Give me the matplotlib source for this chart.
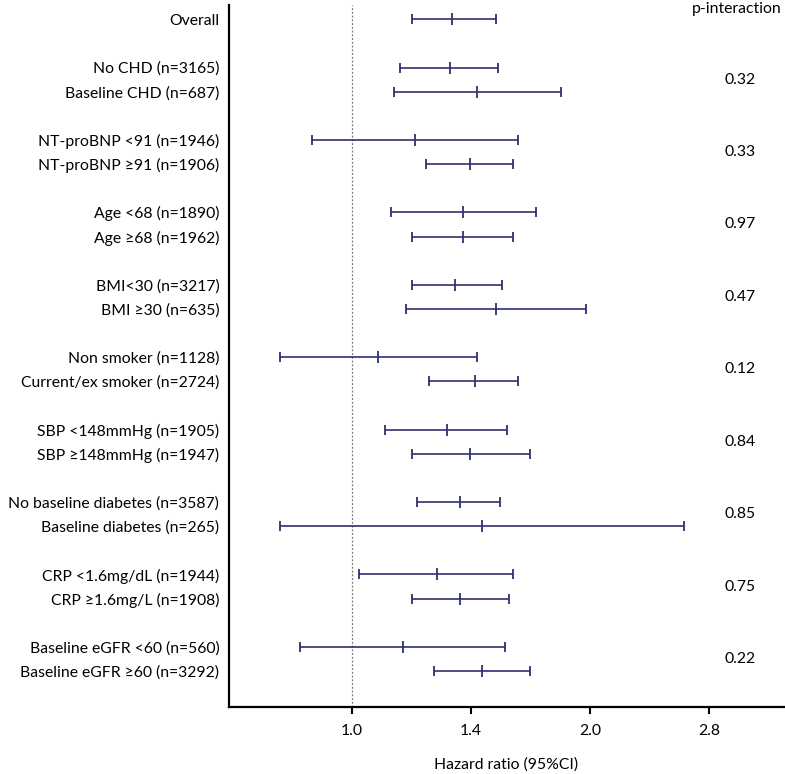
import matplotlib
matplotlib.use("Agg")
import matplotlib.pyplot as plt
import numpy as np

labels = ["Overall",
          "No CHD (n=3165)", "Baseline CHD (n=687)",
          "NT-proBNP <91 (n=1946)", "NT-proBNP ≥91 (n=1906)",
          "Age <68 (n=1890)", "Age ≥68 (n=1962)",
          "BMI<30 (n=3217)", "BMI ≥30 (n=635)",
          "Non smoker (n=1128)", "Current/ex smoker (n=2724)",
          "SBP <148mmHg (n=1905)", "SBP ≥148mmHg (n=1947)",
          "No baseline diabetes (n=3587)", "Baseline diabetes (n=265)",
          "CRP <1.6mg/dL (n=1944)", "CRP ≥1.6mg/L (n=1908)",
          "Baseline eGFR <60 (n=560)", "Baseline eGFR ≥60 (n=3292)"]
rows = [0, 2, 3, 5, 6, 8, 9, 11, 12, 14, 15, 17, 18, 20, 21, 23, 24, 26, 27]
hr = [1.34, 1.33, 1.44, 1.20, 1.41, 1.38, 1.38, 1.35, 1.52, 1.08, 1.43,
      1.32, 1.41, 1.37, 1.46, 1.28, 1.37, 1.16, 1.46]
lo = [1.19, 1.15, 1.13, 0.89, 1.24, 1.12, 1.19, 1.19, 1.17, 0.81, 1.25,
      1.10, 1.19, 1.21, 0.81, 1.02, 1.19, 0.86, 1.27]
hi = [1.52, 1.53, 1.84, 1.62, 1.60, 1.71, 1.60, 1.55, 1.98, 1.44, 1.62,
      1.57, 1.68, 1.54, 2.63, 1.60, 1.58, 1.56, 1.68]
p_rows = [2.5, 5.5, 8.5, 11.5, 14.5, 17.5, 20.5, 23.5, 26.5]
p_vals = ["0.32", "0.33", "0.97", "0.47", "0.12", "0.84", "0.85", "0.75", "0.22"]
xticks = [1.0, 2 ** 0.5, 2.0, 2 ** 1.5]
xtick_labels = ["1.0", "1.4", "2.0", "2.8"]

plt.rcParams['font.family'] = ['Lato', 'DejaVu Sans']
fs = 11.3
fig = plt.figure(figsize=(7.85, 7.74), dpi=100)
ax = fig.add_axes([229 / 785, 1 - 707 / 774, (784 - 229) / 785, (707 - 5) / 774])

col = '#2e3070'
hr_a = np.array(hr); lo_a = np.array(lo); hi_a = np.array(hi)
ax.errorbar(hr_a, rows, xerr=[hr_a - lo_a, hi_a - hr_a], fmt='|', color=col,
            ecolor=col, elinewidth=1.2, capsize=3.5, capthick=1.2,
            markersize=9, markeredgewidth=1.3)
ax.axvline(1.0, color='#777777', linestyle=(0, (1.5, 1.5)), linewidth=0.9, zorder=0)

ax.set_xscale('log', base=2)
ax.set_xlim(0.699, 3.52)
ax.set_ylim(28.49, -0.59)
ax.set_xticks(xticks)
ax.set_xticklabels(xtick_labels)
ax.xaxis.set_minor_locator(matplotlib.ticker.NullLocator())
ax.set_yticks(rows)
ax.set_yticklabels(labels)
ax.tick_params(axis='y', length=0, pad=7, labelsize=fs)
ax.tick_params(axis='x', length=5, width=1.5, pad=7, labelsize=fs)

for s in ['top', 'right']:
    ax.spines[s].set_visible(False)
for s in ['left', 'bottom']:
    ax.spines[s].set_linewidth(1.6)
    ax.spines[s].set_color('black')

trans = matplotlib.transforms.blended_transform_factory(fig.transFigure, ax.transData)
for r, p in zip(p_rows, p_vals):
    ax.text(740 / 785, r, p, transform=trans, ha='center', va='center', fontsize=fs, clip_on=False)
fig.text(692 / 785, 1 - 9 / 774, "p-interaction", ha='left', va='center', fontsize=fs)
fig.text(506 / 785, 1 - 765 / 774, "Hazard ratio (95%CI)", ha='center', va='center', fontsize=fs)

fig.savefig("out.png", dpi=100)
